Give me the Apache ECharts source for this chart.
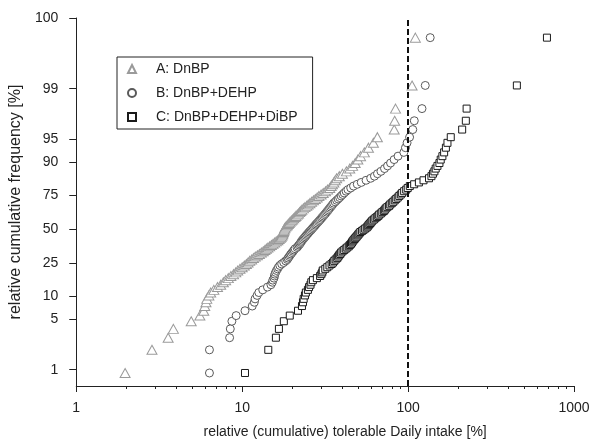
<!DOCTYPE html>
<html>
<head>
<meta charset="utf-8">
<script src="https://cdn.jsdelivr.net/npm/echarts@6/dist/echarts.min.js"></script>
<style>
  html, body { margin: 0; background: #fff; }
  #chart { width: 600px; height: 444px; }
</style>
</head>
<body>
<div id="chart"></div>
<script>
// cumulative frequency [%] of each ranked sample (shared by the three mixes)
const cumFreq = [
  0.9, 1.9, 2.8, 3.7, 4.7, 5.6, 6.5, 7.5, 8.4, 9.3,
  10.3, 11.2, 12.1, 13.1, 14.0, 15.0, 15.9, 16.8, 17.8, 18.7,
  19.6, 20.6, 21.5, 22.4, 23.4, 24.3, 25.2, 26.2, 27.1, 28.0,
  29.0, 29.9, 30.8, 31.8, 32.7, 33.6, 34.6, 35.5, 36.4, 37.4,
  38.3, 39.3, 40.2, 41.1, 42.1, 43.0, 43.9, 44.9, 45.8, 46.7,
  47.7, 48.6, 49.5, 50.5, 51.4, 52.3, 53.3, 54.2, 55.1, 56.1,
  57.0, 57.9, 58.9, 59.8, 60.7, 61.7, 62.6, 63.6, 64.5, 65.4,
  66.4, 67.3, 68.2, 69.2, 70.1, 71.0, 72.0, 72.9, 73.8, 74.8,
  75.7, 76.6, 77.6, 78.5, 79.4, 80.4, 81.3, 82.2, 83.2, 84.1,
  85.0, 86.0, 86.9, 87.9, 88.8, 89.7, 90.7, 91.6, 92.5, 93.5,
  94.4, 95.3, 96.3, 97.2, 98.1, 99.1, 99.81
];

// relative tolerable daily intake [%] per sample
const tdiA = [
  1.97, 2.86, 3.58, 3.85, 4.93, 5.56, 5.87, 5.95, 6.05, 6.12,
  6.3, 6.46, 6.75, 7.1, 7.42, 7.7, 7.95, 8.25, 8.55, 8.87,
  9.15, 9.4, 9.7, 10.0, 10.3, 10.6, 10.85, 11.1, 11.4, 11.7,
  12.0, 12.35, 12.7, 13.05, 13.4, 13.7, 14.0, 14.3, 14.65, 15.0,
  15.35, 15.7, 16.05, 16.4, 16.7, 17.0, 17.2, 17.4, 17.5, 17.6,
  17.7, 17.8, 17.9, 18.0, 18.15, 18.4, 18.7, 18.95, 19.2, 19.45,
  19.8, 20.1, 20.45, 20.8, 21.1, 21.5, 21.85, 22.2, 22.55, 22.9,
  23.4, 23.9, 24.5, 25.0, 25.6, 26.2, 26.9, 27.6, 28.3, 29.0,
  29.9, 30.8, 31.8, 32.7, 33.7, 34.4, 35.0, 35.7, 36.4, 37.1,
  38.5, 40.2, 42.5, 44.5, 46.3, 48.0, 49.8, 51.7, 54.5, 57.7,
  61.8, 65.3, 82.5, 83.0, 84.0, 105.7, 110.6
];
const tdiB = [
  6.35, 6.35, 8.40, 8.48, 8.67, 9.2, 10.4, 11.5, 11.84, 11.96,
  12.3, 12.6, 13.3, 14.2, 14.9, 15.2, 15.3, 15.55, 15.65, 15.75,
  15.9, 16.1, 16.35, 16.55, 16.87, 17.3, 17.8, 18.3, 18.7, 18.92,
  19.2, 19.45, 19.7, 20.0, 20.3, 20.55, 20.85, 21.4, 21.7, 22.0,
  22.3, 22.55, 22.75, 23.05, 23.35, 23.7, 24.0, 24.3, 24.65, 25.0,
  25.35, 25.7, 26.1, 26.45, 26.8, 27.2, 27.6, 27.95, 28.35, 28.8,
  29.2, 29.6, 30.05, 30.45, 30.9, 31.35, 31.8, 32.25, 32.7, 33.15,
  33.6, 34.1, 34.6, 35.1, 35.6, 36.35, 37.1, 37.9, 38.7, 39.5,
  40.35, 41.2, 42.3, 43.4, 45.1, 46.9, 49.4, 52.2, 55.8, 59.5,
  62.7, 65.4, 68.6, 72.1, 75.2, 78.4, 82.4, 87.0, 94.3, 96.4,
  98.6, 102.1, 106.7, 109.0, 121.3, 126.9, 135.9
];
const tdiC = [
  10.4, 14.37, 15.97, 16.65, 17.83, 19.36, 21.7, 22.93, 23.25, 23.48,
  23.9, 24.2, 24.9, 25.3, 25.8, 26.1, 26.7, 28.2, 29.5, 30.0,
  30.4, 30.6, 31.7, 32.6, 33.6, 34.6, 35.3, 35.9, 36.6, 37.4,
  37.9, 38.4, 39.0, 39.5, 40.3, 41.2, 42.1, 43.0, 43.9, 44.6,
  45.3, 45.9, 46.3, 46.9, 47.6, 48.2, 48.9, 49.6, 50.2, 50.9,
  51.6, 52.8, 53.9, 55.1, 56.3, 57.1, 57.8, 58.6, 59.4, 60.2,
  61.0, 62.2, 63.5, 64.8, 66.1, 67.0, 68.5, 69.9, 71.4, 72.4,
  73.4, 75.0, 76.8, 78.1, 79.8, 81.4, 83.1, 84.8, 86.6, 88.5,
  90.4, 92.1, 94.7, 97.4, 99.5, 102.4, 108.8, 116.2, 123.9, 133.7,
  138.3, 141.2, 144.1, 146.7, 150.3, 154.5, 157.3, 161.0, 164.9, 169.0,
  172.7, 180.8, 211.8, 222.9, 225.3, 452.5, 686.9
];

const seriesNames  = ['A: DnBP', 'B: DnBP+DEHP', 'C: DnBP+DEHP+DiBP'];
const yTickPct     = [1, 5, 10, 25, 50, 75, 90, 95, 99, 99.9];
const yTickLabels  = ['1', '5', '10', '25', '50', '75', '90', '95', '99', '100'];
const yRangePct    = [0.59, 99.9];
const xRange       = [1, 1000];
const xMinorTicks  = [2, 3, 4, 5, 6, 7, 8, 9, 20, 30, 40, 50, 60, 70, 80, 90,
                      200, 300, 400, 500, 600, 700, 800, 900];
const tdiLimit     = 100;

// probability paper: cumulative frequency on a logit scale
const logit = p => Math.log(p / (100 - p));
const toPoints = xs => xs.map((x, i) => [x, logit(cumFreq[i])]);

const font = 'Liberation Sans, Arial, sans-serif';
const ink  = '#222';

const scatter = (name, xs, symbol, size, color) => ({
  name, type: 'scatter', data: toPoints(xs),
  symbol, symbolSize: size,
  itemStyle: { color: '#fff', borderColor: color, borderWidth: 1, opacity: 1 },
  emphasis: { disabled: true }
});

const seriesC = scatter(seriesNames[2], tdiC, 'rect', 7, '#1a1a1a');
seriesC.markLine = {
  silent: true, symbol: 'none', animation: false,
  label: { show: false },
  lineStyle: { color: '#111', width: 2, type: [6, 3] },
  data: [{ xAxis: tdiLimit }]
};

const chart = echarts.init(document.getElementById('chart'));
chart.setOption({
  animation: false,
  textStyle: { fontFamily: font },
  grid: { left: 71, right: 26, top: 18, bottom: 56 },
  legend: {
    orient: 'vertical', left: 117, top: 57,
    padding: [5, 15, 5, 10], itemGap: 10,
    itemWidth: 8, itemHeight: 8,
    borderColor: ink, borderWidth: 1,
    textStyle: { fontSize: 14, color: ink, padding: [0, 0, 0, 15] },
    data: seriesNames
  },
  xAxis: {
    type: 'log', logBase: 10, min: xRange[0], max: xRange[1],
    name: 'relative (cumulative) tolerable Daily intake [%]',
    nameLocation: 'middle', nameGap: 39,
    nameTextStyle: { fontSize: 14, color: ink, padding: [0, 0, 0, 40] },
    axisLine: { onZero: false, lineStyle: { color: ink, width: 1 } },
    axisTick: { show: true, length: 6, lineStyle: { color: ink } },
    axisLabel: { fontSize: 14, color: ink, margin: 15, formatter: v => String(Math.round(v)) },
    splitLine: { show: false }
  },
  yAxis: {
    type: 'value',
    min: logit(yRangePct[0]), max: logit(yRangePct[1]),
    name: 'relative cumulative frequency [%]',
    nameLocation: 'middle', nameGap: 41,
    nameTextStyle: { fontSize: 16, color: ink },
    axisLine: { show: true, onZero: false, lineStyle: { color: ink, width: 1 } },
    axisTick: { show: true, length: 7, lineStyle: { color: ink }, customValues: yTickPct.map(logit) },
    axisLabel: {
      fontSize: 14, color: ink, margin: 18,
      customValues: yTickPct.map(logit),
      formatter: v => yTickLabels[yTickPct.findIndex(p => Math.abs(logit(p) - v) < 1e-6)]
    },
    splitLine: { show: false }
  },
  series: [
    scatter(seriesNames[0], tdiA, 'triangle', [10, 9], '#9a9a9a'),
    scatter(seriesNames[1], tdiB, 'circle', 8, '#5a5a5a'),
    seriesC
  ]
});

// minor ticks (2..9 of every decade) under the log axis, placed with the axis scale
const yBase = Math.round(chart.convertToPixel({ yAxisIndex: 0 }, logit(yRangePct[0])));
chart.setOption({
  graphic: xMinorTicks.map(v => {
    const x = Math.round(chart.convertToPixel({ xAxisIndex: 0 }, v)) + 0.5;
    return {
      type: 'line', silent: true, z: 10,
      shape: { x1: x, y1: yBase, x2: x, y2: yBase + 3 },
      style: { stroke: ink, lineWidth: 1 }
    };
  })
});
</script>
</body>
</html>
